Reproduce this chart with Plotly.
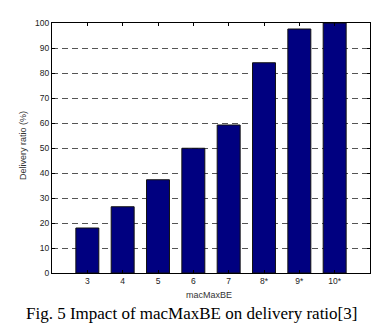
import plotly.graph_objects as go

categories = [3, 4, 5, 6, 7, 8, 9, 10]
tick_labels = ["3", "4", "5", "6", "7", "8*", "9*", "10*"]
delivery_ratio = [18, 26.5, 37.3, 49.9, 59.2, 84.1, 97.6, 100]

W, H = 379, 331
L, R, T, B = 52, 9, 23, 58
pw, ph = W - L - R, H - T - B

def px_x(x):
    return (x - L) / pw

def px_y(y):
    return (H - B - y) / ph

fig = go.Figure()
fig.add_trace(go.Bar(
    x=categories, y=delivery_ratio, width=0.65,
    marker=dict(color="#000080", line=dict(color="#111111", width=1)),
))

tick_font = dict(family="Liberation Sans, Arial", size=8.5, color="#222")
fig.update_layout(
    width=W, height=H,
    margin=dict(l=L, r=R, t=T, b=B),
    paper_bgcolor="white", plot_bgcolor="white",
    showlegend=False,
    xaxis=dict(
        range=[2, 11], tickmode="array", tickvals=categories, ticktext=tick_labels,
        ticks="inside", ticklen=3, tickcolor="black",
        showline=True, linecolor="black", linewidth=1, mirror="ticks",
        showgrid=False, zeroline=False, tickfont=tick_font,
    ),
    yaxis=dict(
        range=[0, 100], tickmode="array", tickvals=list(range(0, 101, 10)),
        ticks="inside", ticklen=3, tickcolor="black",
        showline=True, linecolor="black", linewidth=1, mirror="ticks",
        showgrid=True, gridcolor="#555", gridwidth=1.2, griddash="6px,4px",
        zeroline=False, tickfont=tick_font,
    ),
    annotations=[
        dict(text="Delivery ratio (%)", x=px_x(23), y=px_y(146), xref="paper", yref="paper",
             showarrow=False, textangle=-90, xanchor="center", yanchor="middle",
             font=dict(family="Liberation Sans, Arial", size=9, color="#333")),
        dict(text="macMaxBE", x=px_x(209), y=px_y(295), xref="paper", yref="paper",
             showarrow=False, xanchor="center", yanchor="middle",
             font=dict(family="Liberation Sans, Arial", size=9, color="#333")),
        dict(text="Fig. 5 Impact of macMaxBE on delivery ratio[3]", x=px_x(191), y=px_y(313),
             xref="paper", yref="paper", showarrow=False, xanchor="center", yanchor="middle",
             font=dict(family="Liberation Serif, Times New Roman", size=17, color="black")),
    ],
)

fig.write_html("out.html")
